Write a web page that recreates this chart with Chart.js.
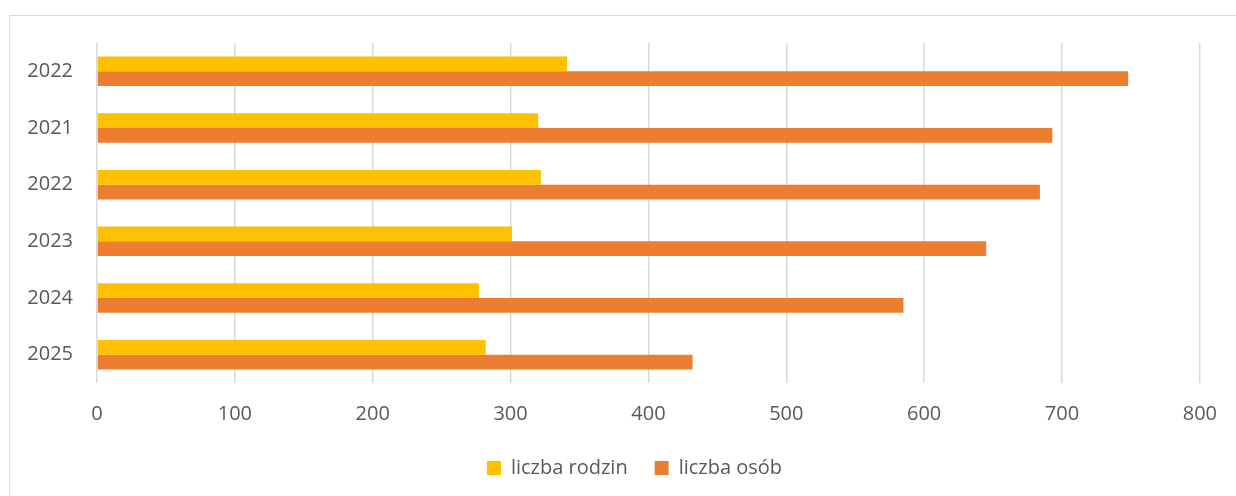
<!DOCTYPE html>
<html>
<head>
<meta charset="utf-8">
<script src="https://cdn.jsdelivr.net/npm/chart.js@4"></script>
<style>
  html, body { margin: 0; padding: 0; background: #fff; }
  body { width: 1236px; height: 496px; position: relative; overflow: hidden; }
  .frame { position: absolute; left: 9px; top: 15px; width: 1250px; height: 500px; border: 1.5px solid #d9d9d9; box-sizing: border-box; }
  .wrap { position: absolute; left: 0; top: 0; width: 1236px; height: 496px; }
</style>
</head>
<body>
<div class="frame"></div>
<div class="wrap"><canvas id="chart"></canvas></div>
<script>
const years = ['2022', '2021', '2022', '2023', '2024', '2025'];
const rodziny = [341, 320, 322, 301, 277, 282];
const osoby = [748, 693, 684, 645, 585, 432];
const xTicks = [0, 100, 200, 300, 400, 500, 600, 700, 800];

// nudge the legend to where it sits in the original
const legendShift = {
  id: 'legendShift',
  afterLayout(chart) {
    const lg = chart.legend;
    lg.left += 34; lg.right += 34;
    lg.top -= 8; lg.bottom -= 8;
  }
};

const ctx = document.getElementById('chart').getContext('2d');
new Chart(ctx, {
  type: 'bar',
  data: {
    labels: years,
    datasets: [{
      label: 'liczba rodzin',
      data: rodziny,
      backgroundColor: '#FFC000'
    }, {
      label: 'liczba osób',
      data: osoby,
      backgroundColor: '#ED7D31'
    }]
  },
  plugins: [legendShift],
  options: {
    indexAxis: 'y',
    responsive: true,
    maintainAspectRatio: false,
    animation: false,
    datasets: {
      bar: { categoryPercentage: 0.52, barPercentage: 1.0 }
    },
    layout: { padding: { top: 43, right: 35, left: 0, bottom: 0 } },
    plugins: {
      legend: {
        position: 'bottom',
        labels: {
          boxWidth: 14,
          boxHeight: 14,
          padding: 27,
          color: '#595959',
          font: { family: 'Open Sans', size: 20 }
        }
      },
      tooltip: { enabled: false }
    },
    scales: {
      x: {
        min: 0,
        max: 800,
        afterBuildTicks: axis => { axis.ticks = xTicks.map(v => ({ value: v })); },
        afterFit: axis => { axis.height = 56; },
        border: { display: false },
        grid: { color: '#d9d9d9', lineWidth: 1.5, drawTicks: false },
        ticks: {
          padding: 19,
          color: '#595959',
          font: { family: 'Open Sans', size: 20 }
        }
      },
      y: {
        afterFit: axis => { axis.width = 97; },
        border: { display: false },
        grid: { display: false },
        ticks: {
          padding: 16,
          color: '#595959',
          font: { family: 'Open Sans', size: 20 }
        }
      }
    }
  }
});
</script>
</body>
</html>
